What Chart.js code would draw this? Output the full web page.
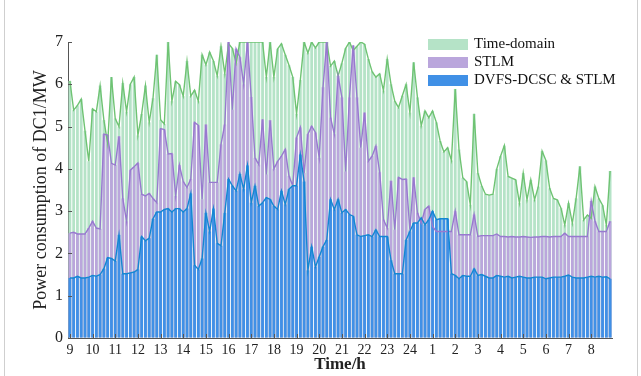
<!DOCTYPE html>
<html>
<head>
<meta charset="utf-8">
<title>Power consumption of DC1</title>
<script src="https://cdn.jsdelivr.net/npm/chart.js@4.4.1/dist/chart.umd.min.js"></script>
<style>
  html, body { margin: 0; padding: 0; background: #fff; }
  #wrap { width: 641px; height: 376px; position: relative; }
</style>
</head>
<body>
<div id="wrap"><canvas id="power" width="641" height="376"></canvas></div>
<script>
// hour labels on the x axis, 6 slots (10 min) per hour
const hourLabels = ['9', '10', '11', '12', '13', '14', '15', '16', '17', '18', '19', '20',
                    '21', '22', '23', '24', '1', '2', '3', '4', '5', '6', '7', '8'];
const slotsPerHour = 6;

// Time-domain (MW)
const timeDomain = [
  6.08, 5.39, 5.5, 5.65, 4.9, 4.18, 5.42, 5.35, 5.97, 5.15, 4.6, 6.17,
  5.19, 5.0, 6.03, 5.35, 6.0, 6.17, 4.79, 5.3, 5.97, 5.1, 5.67, 6.7,
  5.16, 5.06, 7.0, 5.6, 6.07, 5.99, 5.72, 6.55, 5.72, 5.86, 5.6, 6.7,
  6.46, 6.76, 6.55, 6.2, 6.9, 6.25, 6.96, 6.85, 6.5, 7.0, 7.0, 7.0,
  7.0, 7.0, 7.0, 7.0, 6.17, 7.0, 6.17, 6.84, 6.96, 6.7, 6.45, 6.17,
  5.3, 6.1, 7.0, 6.74, 7.0, 6.86, 7.0, 7.0, 7.0, 6.43, 6.55, 6.2,
  6.5, 6.85, 7.0, 6.8, 6.9, 7.0, 6.95, 6.6, 6.3, 6.17, 6.25, 5.85,
  6.6, 6.0, 5.6, 5.45, 5.73, 6.0, 5.33, 6.52, 5.69, 5.02, 5.37, 5.21,
  5.37, 5.1, 4.66, 4.4, 4.5, 4.2, 5.89, 4.46, 3.79, 3.7, 3.15, 5.3,
  3.9, 3.6, 3.4, 3.38, 3.4, 4.0, 4.3, 4.55, 3.82, 3.78, 3.74, 3.19,
  3.9, 3.27, 3.74, 3.27, 3.58, 4.42, 4.2, 3.54, 3.3, 3.27, 3.07, 2.67,
  3.19, 2.71, 3.3, 4.06, 2.79, 2.91, 2.83, 3.58, 3.3, 3.14, 2.67, 3.95
];

// STLM (MW)
const stlm = [
  2.48, 2.5, 2.46, 2.46, 2.46, 2.6, 2.76, 2.6, 2.58, 4.82, 4.8, 4.13,
  4.09, 4.77, 3.3, 2.76, 3.97, 4.05, 4.14, 3.4, 3.36, 3.42, 3.3, 3.2,
  4.95, 4.93, 4.35, 4.36, 3.36, 4.09, 3.7, 3.56, 3.76, 5.1, 5.03, 3.28,
  5.05, 3.68, 3.68, 3.68, 4.58, 5.05, 7.0, 5.4, 6.84, 6.64, 6.0, 7.0,
  5.7, 4.26, 4.1, 5.17, 3.87, 5.15, 4.0, 4.18, 4.3, 4.46, 3.83, 3.6,
  4.74, 4.98, 3.9, 4.82, 5.01, 4.86, 4.26, 5.93, 7.0, 5.21, 4.82, 6.2,
  5.69, 3.94, 5.69, 6.92, 5.69, 4.5, 5.33, 4.18, 4.3, 4.54, 3.92, 2.8,
  2.6, 3.72, 2.56, 3.8, 3.75, 3.76, 2.56, 3.8, 2.96, 2.72, 3.04, 3.12,
  2.64, 2.52, 2.52, 2.52, 2.52, 2.52, 3.0, 2.44, 2.44, 2.44, 2.44, 2.92,
  2.4, 2.42, 2.42, 2.42, 2.42, 2.46, 2.4, 2.4, 2.39, 2.4, 2.39, 2.39,
  2.4, 2.39, 2.38, 2.39, 2.39, 2.4, 2.4, 2.39, 2.4, 2.4, 2.4, 2.48,
  2.4, 2.4, 2.4, 2.4, 2.4, 2.4, 3.24, 2.76, 2.52, 2.52, 2.52, 2.76
];

// DVFS-DCSC & STLM (MW)
const dvfsStlm = [
  1.42, 1.42, 1.46, 1.42, 1.42, 1.44, 1.48, 1.46, 1.5, 1.64, 1.9, 1.88,
  1.82, 2.44, 1.52, 1.52, 1.54, 1.56, 1.62, 2.4, 2.3, 2.36, 2.82, 2.98,
  2.98, 3.04, 3.06, 2.98, 3.06, 3.06, 2.98, 3.06, 3.42, 1.72, 1.62, 1.88,
  2.96, 2.52, 3.06, 2.24, 2.18, 2.96, 3.76, 3.6, 3.48, 3.88, 3.52, 4.08,
  3.2, 3.6, 3.12, 3.2, 3.32, 3.28, 3.12, 3.04, 3.48, 3.16, 3.52, 3.6,
  3.6, 4.34, 3.7, 1.6, 2.16, 1.68, 1.92, 2.16, 2.32, 3.28, 3.04, 3.28,
  2.96, 3.04, 2.92, 2.88, 2.44, 2.4, 2.42, 2.44, 2.4, 2.56, 2.4, 2.4,
  2.4, 1.84, 1.52, 1.52, 1.52, 2.32, 2.52, 2.72, 2.72, 2.84, 2.68, 2.8,
  3.0, 2.8, 2.82, 2.82, 2.82, 1.52, 1.48, 1.4, 1.48, 1.46, 1.46, 1.64,
  1.48, 1.5, 1.46, 1.42, 1.42, 1.48, 1.46, 1.44, 1.46, 1.42, 1.44, 1.46,
  1.44, 1.42, 1.42, 1.44, 1.44, 1.44, 1.4, 1.42, 1.44, 1.44, 1.44, 1.46,
  1.49, 1.44, 1.42, 1.42, 1.42, 1.44, 1.46, 1.44, 1.46, 1.44, 1.45, 1.4
];

// one category per 10-minute slot; only the first slot of each hour gets a label
const slots = [];
hourLabels.forEach(h => {
  for (let k = 0; k < slotsPerHour; k++) slots.push(k === 0 ? h : h + '+' + k);
});

const serif = '"Liberation Serif", "Times New Roman", serif';
const axisColor = '#555';

const colors = {
  timeFill: '#b5e3c7', timeLine: '#6fc373',
  stlmFill: '#baa6dc', stlmLine: '#9879cf',
  dvfsFill: '#4090e6', dvfsLine: '#1487d2'
};

// inward tick marks, legend and the side frame lines
const extras = {
  id: 'extras',
  afterDraw(chart) {
    const ctx = chart.ctx;
    const area = chart.chartArea;
    const xs = chart.scales.x, ys = chart.scales.y;
    ctx.save();
    ctx.strokeStyle = axisColor;
    ctx.lineWidth = 1;
    ctx.beginPath();
    for (let i = 0; i < slots.length; i += slotsPerHour) {
      const px = Math.round(xs.getPixelForValue(i)) + 0.5;
      ctx.moveTo(px, area.bottom);
      ctx.lineTo(px, area.bottom - 4);
    }
    ys.ticks.forEach(t => {
      const py = Math.round(ys.getPixelForValue(t.value)) + 0.5;
      ctx.moveTo(area.left, py);
      ctx.lineTo(area.left + 4, py);
    });
    ctx.stroke();

    const items = [
      ['Time-domain', colors.timeFill],
      ['STLM', colors.stlmFill],
      ['DVFS-DCSC & STLM', colors.dvfsFill]
    ];
    ctx.font = '15px ' + serif;
    ctx.textBaseline = 'middle';
    items.forEach((it, k) => {
      const y = 39 + k * 18;
      ctx.fillStyle = it[1];
      ctx.fillRect(428, y, 40, 11);
      ctx.fillStyle = '#111';
      ctx.fillText(it[0], 474, y + 5.5);
    });

    ctx.strokeStyle = '#cfcfcf';
    ctx.beginPath();
    ctx.moveTo(4.5, 0); ctx.lineTo(4.5, 376);
    ctx.moveTo(637.5, 0); ctx.lineTo(637.5, 376);
    ctx.stroke();
    ctx.restore();
  }
};

function barSet(label, data, fill, order) {
  return {
    type: 'bar', label, data,
    backgroundColor: fill, borderWidth: 0,
    barPercentage: 0.74, categoryPercentage: 1.0,
    grouped: false, order
  };
}
function lineSet(label, data, stroke, order) {
  return {
    type: 'line', label, data,
    borderColor: stroke, borderWidth: 1.4,
    pointRadius: 0, tension: 0, fill: false, order
  };
}

new Chart(document.getElementById('power'), {
  data: {
    labels: slots,
    datasets: [
      barSet('Time-domain', timeDomain, colors.timeFill, 6),
      barSet('STLM', stlm, colors.stlmFill, 5),
      barSet('DVFS-DCSC & STLM', dvfsStlm, colors.dvfsFill, 4),
      lineSet('Time-domain line', timeDomain, colors.timeLine, 3),
      lineSet('STLM line', stlm, colors.stlmLine, 2),
      lineSet('DVFS-DCSC & STLM line', dvfsStlm, colors.dvfsLine, 1)
    ]
  },
  options: {
    responsive: false,
    animation: false,
    devicePixelRatio: 1,
    layout: { padding: { left: 0, right: 29, top: 42, bottom: 0 } },
    plugins: { legend: { display: false }, tooltip: { enabled: false } },
    scales: {
      x: {
        offset: true,
        grid: { drawOnChartArea: false, drawTicks: false },
        border: { color: axisColor, width: 1 },
        ticks: {
          autoSkip: false, maxRotation: 0, padding: 4,
          color: '#222', font: { family: serif, size: 14 },
          callback: (v, i) => (i % slotsPerHour === 0 ? hourLabels[i / slotsPerHour] : null)
        },
        title: {
          display: true, text: 'Time/h', color: '#222',
          font: { family: serif, size: 17, weight: 'bold' },
          padding: { top: 0, bottom: 1 }
        },
        afterFit: s => { s.height = 38; }
      },
      y: {
        min: 0, max: 7,
        grid: { drawOnChartArea: false, drawTicks: false },
        border: { color: axisColor, width: 1 },
        ticks: {
          stepSize: 1, padding: 5,
          color: '#222', font: { family: serif, size: 16 }
        },
        title: {
          display: true, text: 'Power consumption of DC1/MW', color: '#222',
          font: { family: serif, size: 18 },
          padding: { top: 30, bottom: 0 }
        },
        afterFit: s => { s.width = 68; }
      }
    }
  },
  plugins: [extras]
});
</script>
</body>
</html>
